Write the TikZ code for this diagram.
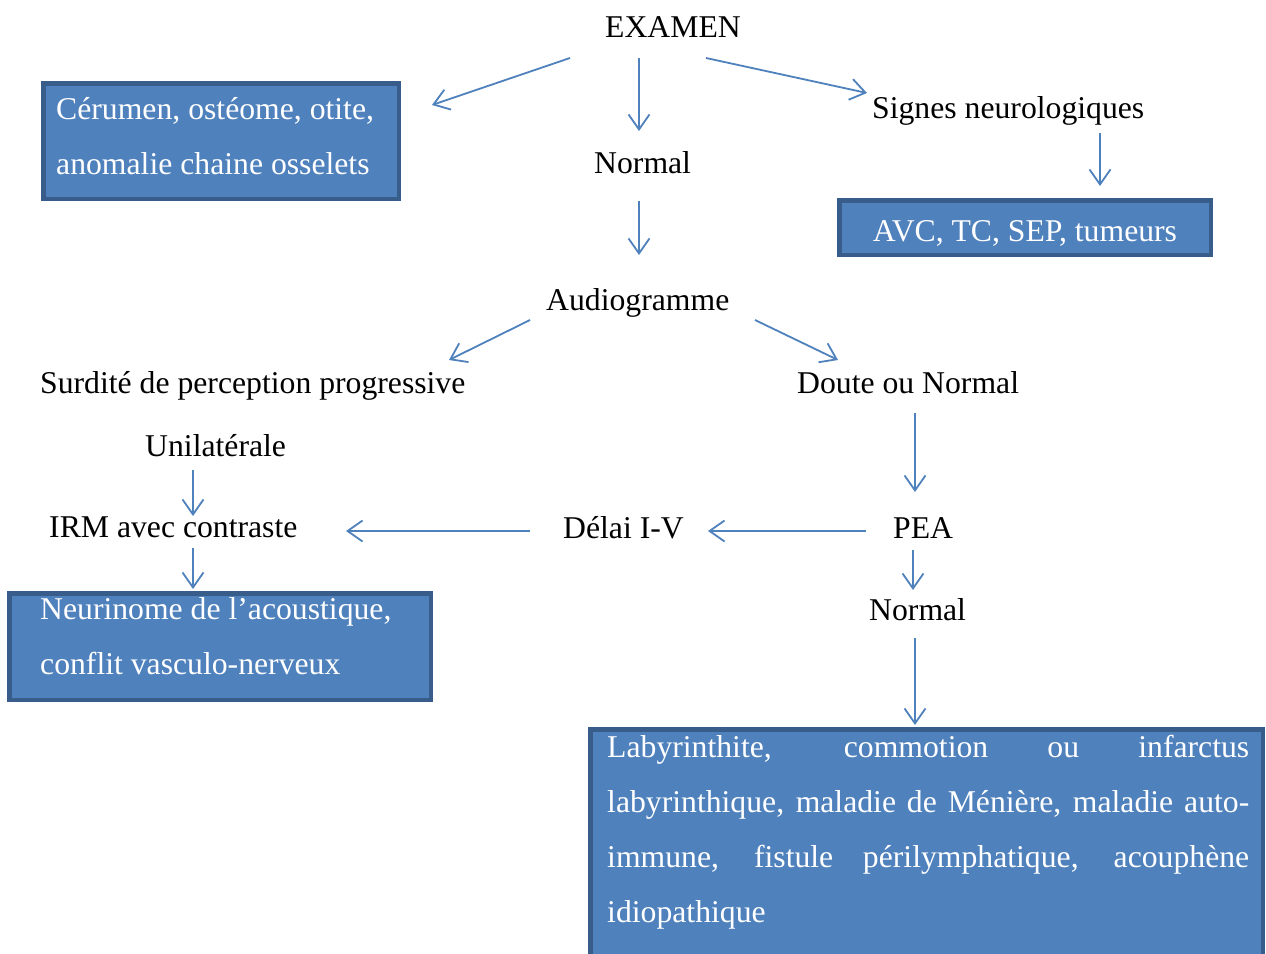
\documentclass[tikz,border=0pt]{standalone}
\usepackage{fontspec}
\setmainfont{Liberation Serif}
\usetikzlibrary{arrows.meta,calc}
\definecolor{arrblue}{HTML}{4F81BD}
\definecolor{boxfill}{HTML}{4F81BD}
\definecolor{boxline}{HTML}{385D8A}
\begin{document}
\begin{tikzpicture}[x=1pt,y=-1pt,
  lbl/.style={anchor=base west,inner sep=0pt,font=\fontsize{31.7}{55}\selectfont,text=black},
  wlbl/.style={lbl,text=white},
  bluebox/.style={draw=boxline,fill=boxfill,line width=4.5pt,anchor=north west,rectangle,inner sep=0pt},
  arr/.style={draw=arrblue,line width=1.8pt,-{Straight Barb[length=15pt,width=21pt,line width=1.8pt]}}
]
\useasboundingbox (0,0) rectangle (1266,953);
\fill[white] (0,0) rectangle (1266,953);

% boxes
\node[bluebox,minimum width=355.5pt,minimum height=115.5pt] (box1) at (41,81) {};
\node[bluebox,minimum width=371.5pt,minimum height=54.5pt] (box2) at (837,198) {};
\node[bluebox,minimum width=421.5pt,minimum height=106.5pt] (box3) at (7,591) {};
\node[bluebox,minimum width=672.5pt,minimum height=300pt] (box4) at (588,727) {};

% box texts
\node[wlbl] (t1) at (56,119) {\parbox[t]{340pt}{\raggedright Cérumen, ostéome, otite,\\ anomalie chaine osselets}};
\node[wlbl,anchor=base] (t2) at (1025,241) {AVC, TC, SEP, tumeurs};
\node[wlbl] (t3) at (40,619) {\parbox[t]{390pt}{\raggedright\baselineskip=55.5pt Neurinome de l’acoustique,\\ conflit vasculo-nerveux}};
\node[wlbl] (t4) at (607,757) {\parbox[t]{642pt}{\tolerance=10000\hyphenpenalty=10000\baselineskip=55pt
Labyrinthite, commotion ou infarctus\linebreak
labyrinthique, maladie de Ménière, maladie auto-\linebreak
immune, fistule périlymphatique, acouphène\linebreak
idiopathique}};

% plain labels
\node[lbl] (examen) at (605,37) {EXAMEN};
\node[lbl] (normal1) at (594,173) {Normal};
\node[lbl] (signes) at (872,118) {Signes neurologiques};
\node[lbl] (audio) at (546,310) {Audiogramme};
\node[lbl] (surdite) at (40,393) {Surdité de perception progressive};
\node[lbl] (doute) at (797,393) {Doute ou Normal};
\node[lbl] (unilat) at (145,456) {Unilatérale};
\node[lbl] (irm) at (49,537) {IRM avec contraste};
\node[lbl] (delai) at (563,538) {Délai I-V};
\node[lbl] (pea) at (893,538) {PEA};
\node[lbl] (normal2) at (869,620) {Normal};

% connectors
\draw[arr] ($(examen.base west)+(-35,21)$) -- ($(box1.east)+(31,-36)$);
\draw[arr] ($(examen.base west)+(34,21)$) -- ($(normal1.base west)+(45,-42)$);
\draw[arr] ($(examen.base west)+(101,21)$) -- ($(signes.base west)+(-5,-25)$);
\draw[arr] ($(normal1.base west)+(45,28)$) -- ($(audio.base west)+(93,-55)$);
\draw[arr] ($(signes.base west)+(228,15)$) -- ($(box2.north west)+(263,-12)$);
\draw[arr] ($(audio.base west)+(-16,10)$) -- ($(surdite.base west)+(409,-33)$);
\draw[arr] ($(audio.base west)+(209,10)$) -- ($(doute.base west)+(41,-33)$);
\draw[arr] ($(doute.base west)+(118,20)$) -- ($(pea.base west)+(22,-46)$);
\draw[arr] ($(unilat.base west)+(48,14)$) -- ($(irm.base west)+(144,-21)$);
\draw[arr] ($(pea.base west)+(-27,-7)$) -- ($(delai.base west)+(145,-7)$);
\draw[arr] ($(delai.base west)+(-33,-7)$) -- ($(irm.base west)+(297,-6)$);
\draw[arr] ($(irm.base west)+(144,11)$) -- ($(box3.north west)+(186,-2)$);
\draw[arr] ($(pea.base west)+(20,12)$) -- ($(normal2.base west)+(44,-30)$);
\draw[arr] ($(normal2.base west)+(46,18)$) -- ($(box4.north west)+(327,-2)$);
\end{tikzpicture}
\end{document}
